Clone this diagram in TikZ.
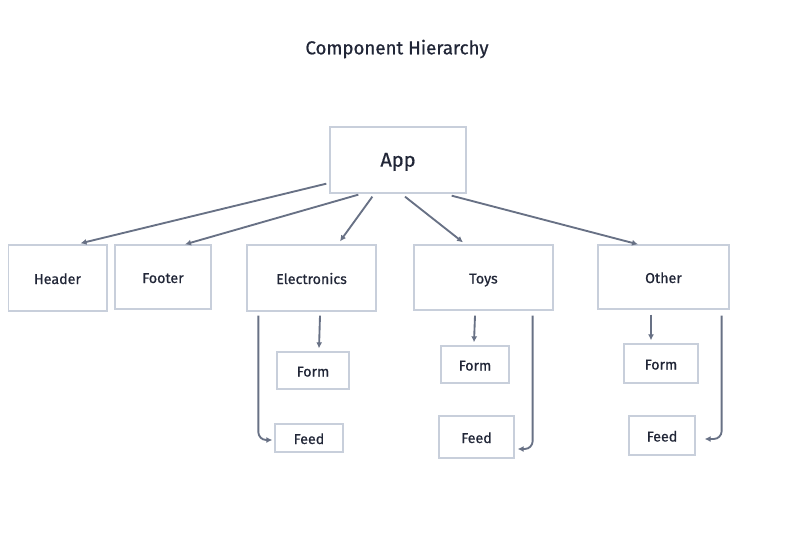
\documentclass[tikz,border=0pt]{standalone}
\usepackage{fontspec}
\setmainfont{Fira Sans}[FakeBold=0.7]
\usetikzlibrary{arrows.meta,calc}

\definecolor{boxline}{RGB}{200,207,219}
\definecolor{arrowline}{RGB}{104,113,133}
\definecolor{labeltext}{RGB}{33,38,55}

\tikzset{every picture/.style={line width=0.75pt}}
\tikzset{
  compbox/.style={draw=boxline, line width=1pt, text=labeltext, inner sep=0pt, text height=0.9em, text depth=0pt, font=\fontsize{10.7}{12}\selectfont},
  childarrow/.style={draw=arrowline, line width=1.4pt, -{Latex[length=4.5pt,width=4.5pt]}, rounded corners=6pt}
}

\begin{document}
\begin{tikzpicture}[x=0.75pt,y=0.75pt,yscale=-1,xscale=1]
\useasboundingbox (0,0) rectangle (795,543);

% Text Node
\node (title) at (397,49) [text=labeltext, font=\fontsize{14}{16}\selectfont] {Component Hierarchy};

%Shape: Rectangle [App]
\node (app) at (398,160) [compbox, minimum width=102pt, minimum height=49.5pt, text height=1.0em, font=\fontsize{15}{17}\selectfont] {App};

%Shape: Rectangle [first row]
\node (header) at (57.5,278) [compbox, minimum width=74pt, minimum height=49.5pt] {Header};
\node (footer) at (163,277) [compbox, minimum width=72pt, minimum height=48pt] {Footer};
\node (elec) at (311.5,278) [compbox, minimum width=96.75pt, minimum height=49.5pt] {Electronics};
\node (toys) at (483.5,277.5) [compbox, minimum width=104.25pt, minimum height=48.75pt] {Toys};
\node (other) at (663.5,277) [compbox, minimum width=98.25pt, minimum height=48pt] {Other};

%Shape: Rectangle [second row]
\node (eform) at (313,370.5) [compbox, minimum width=54pt, minimum height=27.75pt] {Form};
\node (efeed) at (309,438) [compbox, minimum width=51pt, minimum height=21pt] {Feed};
\node (tform) at (475,364.5) [compbox, minimum width=51pt, minimum height=27.75pt] {Form};
\node (tfeed) at (476.5,437) [compbox, minimum width=56.25pt, minimum height=31.5pt] {Feed};
\node (oform) at (661,363.5) [compbox, minimum width=55.5pt, minimum height=29.25pt] {Form};
\node (ofeed) at (662,435.5) [compbox, minimum width=49.5pt, minimum height=29.25pt] {Feed};

%Straight Lines [App to first row]
\draw [childarrow] ($(app.south west)+(-3,-10)$) -- ($(header.north)+(23,-1)$);
\draw [childarrow] ($(app.south west)+(29,1)$) -- ($(footer.north)+(22,0)$);
\draw [childarrow] ($(app.south west)+(43,3)$) -- ($(elec.north)+(28.5,-3)$);
\draw [childarrow] ($(app.south)+(7,3)$) -- ($(toys.north)+(-20.5,-2)$);
\draw [childarrow] ($(app.south east)+(-15,2)$) -- ($(other.north)+(-25.5,0)$);

%Straight Lines [to Form]
\draw [childarrow] ($(elec.south)+(8.5,4)$) -- ($(eform.north)+(6,-3)$);
\draw [childarrow] ($(toys.south)+(-8.5,5)$) -- ($(tform.north)+(-1,-3)$);
\draw [childarrow] ($(other.south)+(-12.5,5)$) -- ($(oform.north)+(-10,-3)$);

%Elbow Lines [to Feed]
\draw [childarrow] ($(elec.south west)+(12,4)$) |- ($(efeed.west)+(-2,2)$);
\draw [childarrow] ($(toys.south east)+(-21,5)$) |- ($(tfeed.east)+(3,12)$);
\draw [childarrow] ($(other.south east)+(-8,6)$) |- ($(ofeed.east)+(9,3.5)$);

\end{tikzpicture}
\end{document}
